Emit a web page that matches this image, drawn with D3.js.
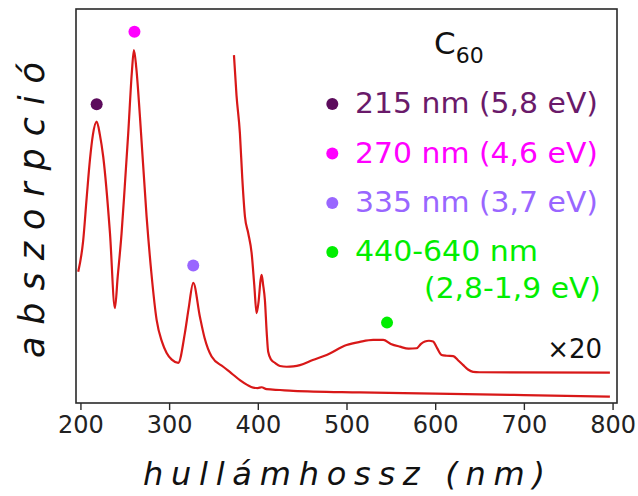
<!DOCTYPE html>
<html>
<head>
<meta charset="utf-8">
<script src="https://cdn.jsdelivr.net/npm/d3@7"></script>
<style>
  html, body { margin: 0; padding: 0; background: #fff; }
  svg { display: block; font-family: "DejaVu Sans", sans-serif; }
</style>
</head>
<body>
<svg id="chart" width="638" height="496"></svg>
<script>
// ---- data (wavelength nm, absorbance in arbitrary units) ----
const mainWavelength = [197.5,203,207,210.7,214,218.3,222,225.7,233.3,238.9,242,246.4,250,253.9,258,260.3,263,267.1,274.6,280,285.9,292,297.2,303,310.3,317.8,322,327.2,334.7,340,347.9,361,370,379.8,388,394.8,400,404.3,409.9,425,439.9,515,600,700,797];
const mainAbsorbance = [33.3,41,52,61.7,68,71.4,68,62.5,43.1,24.1,32,43.1,55,68.5,84,89.6,85,72.7,47.3,33,21.1,15.5,12.7,11,10.2,17.8,24,30.5,21.9,16.5,11.8,9.2,7.6,5.8,4.6,3.9,3.8,4.0,3.5,3.3,3.1,2.7,2.4,2.0,1.6];

const x20Wavelength = [373.1,376,379.8,382.5,385.5,389.2,393,396,398.6,401,403,404.3,406,408,410,411.7,415,419.3,425,432.5,440,447.5,462,477.6,500.1,515,530.1,541.4,550,560.2,570,579,584,588.4,593,597.7,602,607.2,613,620.3,626,631.6,637,642.8,650,797];
const x20Absorbance = [88.3,78,68.5,57,47.3,43.1,38.1,30,22.8,26,31,32.5,30,26.1,18,13.0,11,10.2,9.4,9.2,9.3,9.6,10.9,12.2,14.7,15.5,16.0,16.0,15.0,14.3,13.8,13.9,15.0,15.6,15.8,15.6,14,12.2,12.0,11.9,10.8,9.6,8.5,7.9,7.8,7.7];

const peakWavelength = [218.3, 260.9, 327.2, 545.7];
const peakMarkY = [75.8, 94.2, 34.9, 20.4];
const peakColors = ["#5c0b5c", "#ff00ff", "#9966ff", "#00ee00"];
const legendTextColors = ["#6a1a6a", "#ff00ff", "#9966ff", "#00ee00"];
const legendLabels = ["215 nm (5,8 eV)", "270 nm (4,6 eV)", "335 nm (3,7 eV)", "440-640 nm"];
const legendExtraLine = "(2,8-1,9 eV)";
const xTicks = [200, 300, 400, 500, 600, 700, 800];
const xDomain = [195, 805];
const yDomain = [0, 100];

// ---- layout ----
const svg = d3.select("#chart");
const L = 76, T = 9, R = 617, B = 403;
const x = d3.scaleLinear().domain(xDomain).range([L, R]);
const y = d3.scaleLinear().domain(yDomain).range([B, T]);
const lineColor = "#d81818";

const line = d3.line().x(d => x(d[0])).y(d => y(d[1])).curve(d3.curveMonotoneX);

svg.append("path")
  .datum(d3.zip(mainWavelength, mainAbsorbance))
  .attr("d", line).attr("fill", "none")
  .attr("stroke", lineColor).attr("stroke-width", 2.2).attr("stroke-linejoin", "round");

svg.append("path")
  .datum(d3.zip(x20Wavelength, x20Absorbance))
  .attr("d", line).attr("fill", "none")
  .attr("stroke", lineColor).attr("stroke-width", 2.2).attr("stroke-linejoin", "round");

// peak markers
svg.append("g").selectAll("circle")
  .data(d3.range(peakWavelength.length))
  .join("circle")
  .attr("cx", i => x(peakWavelength[i]))
  .attr("cy", i => y(peakMarkY[i]))
  .attr("r", 6)
  .attr("fill", i => peakColors[i]);

// frame
svg.append("rect").attr("x", L).attr("y", T).attr("width", R - L).attr("height", B - T)
  .attr("fill", "none").attr("stroke", "#2a2a2a").attr("stroke-width", 1.6);

// x axis
const xAxis = d3.axisBottom(x).tickValues(xTicks).tickSize(7).tickPadding(6).tickFormat(d3.format("d"));
const gx = svg.append("g").attr("transform", `translate(0,${B})`).call(xAxis);
gx.select(".domain").remove();
gx.selectAll(".tick line").attr("stroke", "#2a2a2a").attr("stroke-width", 1.4);
gx.selectAll(".tick text")
  .attr("font-family", "DejaVu Sans").attr("font-size", 24).attr("fill", "#222")
  .attr("dy", "0.71em");

// axis labels
svg.append("text")
  .attr("x", 143).attr("y", 485)
  .attr("font-size", 32).attr("font-style", "italic").attr("fill", "#111")
  .attr("textLength", 402).attr("lengthAdjust", "spacing")
  .text("hullámhossz (nm)");

svg.append("text")
  .attr("transform", "translate(44,358) rotate(-90)")
  .attr("font-size", 35).attr("font-style", "italic").attr("fill", "#111")
  .attr("textLength", 296).attr("lengthAdjust", "spacing")
  .text("abszorpció");

// C60 title
const title = svg.append("text").attr("x", 434).attr("y", 54).attr("font-size", 31).attr("fill", "#111");
title.append("tspan").text("C");
title.append("tspan").attr("font-size", 22).attr("dy", 9).text("60");

// legend
const legendY = [113, 162.5, 212, 261];
const legendWidths = [243, 243, 243, 183];
const lg = svg.append("g");
legendLabels.forEach((lab, i) => {
  lg.append("circle").attr("cx", 332.3).attr("cy", legendY[i] - 9).attr("r", 6).attr("fill", peakColors[i]);
  lg.append("text").attr("x", 355).attr("y", legendY[i])
    .attr("font-size", 29).attr("fill", legendTextColors[i])
    .attr("textLength", legendWidths[i]).attr("lengthAdjust", "spacingAndGlyphs")
    .text(lab);
});
lg.append("text").attr("x", 601).attr("y", 298).attr("text-anchor", "end")
  .attr("font-size", 29).attr("fill", legendTextColors[3])
  .attr("textLength", 177).attr("lengthAdjust", "spacingAndGlyphs")
  .text(legendExtraLine);

// x20 annotation
svg.append("text").attr("x", 602).attr("y", 358).attr("text-anchor", "end")
  .attr("font-size", 26).attr("fill", "#111").text("×20");
</script>
</body>
</html>
